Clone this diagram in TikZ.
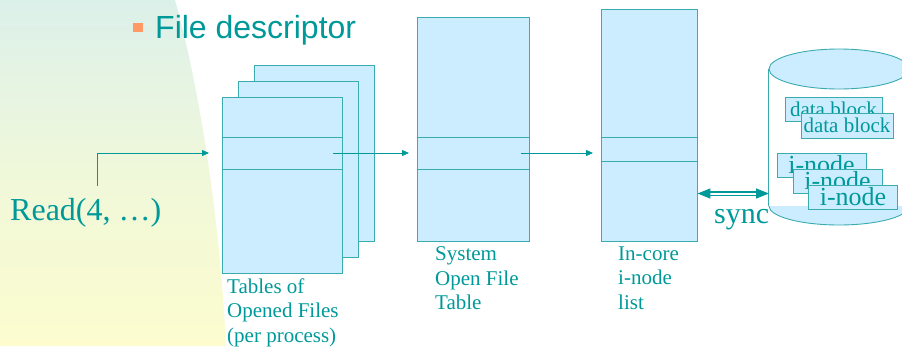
\documentclass[tikz,border=0pt]{standalone}
\usepackage{fontspec}
\setmainfont{Liberation Serif}
\newfontfamily\headfont{Liberation Sans}
\usetikzlibrary{arrows.meta,shapes.geometric}

\definecolor{ink}{RGB}{0,153,153}
\definecolor{edge}{RGB}{58,172,176}
\definecolor{cellfill}{RGB}{204,236,255}
\definecolor{bullet}{RGB}{255,153,102}
\definecolor{bgtop}{RGB}{220,240,234}
\definecolor{bgmid}{RGB}{240,248,218}
\definecolor{bgbot}{RGB}{252,252,206}

\tikzset{
  tablebox/.style={draw=edge, fill=cellfill, line width=0.9pt, inner sep=0pt},
  blockbox/.style={draw=edge, fill=cellfill, line width=0.9pt, inner sep=0pt, text=ink},
  divider/.style={draw=edge, line width=0.9pt},
  link/.style={draw=ink, line width=0.8pt, -{Triangle[length=7pt,width=6pt]}},
  caption/.style={text=ink, anchor=north west, inner sep=0pt, align=left,
                  font=\fontsize{21}{24.5}\selectfont},
}

\begin{document}
\begin{tikzpicture}[x=1pt, y=-1pt]
\useasboundingbox (0,0) rectangle (902,346);

% slide background wedge on the left
\shade[top color=bgtop, bottom color=bgbot, middle color=bgmid]
  (0,0) -- (175,0) .. controls (200,90) and (220,220) .. (226,346) -- (0,346) -- cycle;

% heading
\fill[bullet] (133,23) rectangle (143,32);
\node[anchor=base west, inner sep=0pt, text=ink, font=\headfont\fontsize{32}{36}\selectfont]
  (title) at (155,38) {File descriptor};

% per-process tables (stacked)
\node[tablebox, minimum width=120pt, minimum height=176pt] (tabC) at (314,153) {};
\node[tablebox, minimum width=120pt, minimum height=176pt] (tabB) at (298,169) {};
\node[tablebox, minimum width=120pt, minimum height=176pt] (tabA) at (282,185) {};
\draw[divider] (222,137) -- (342,137);
\draw[divider] (222,169) -- (342,169);

% system open file table
\node[tablebox, minimum width=112pt, minimum height=224pt] (sys) at (473,129) {};
\draw[divider] (417,137) -- (529,137);
\draw[divider] (417,169) -- (529,169);

% in-core i-node list
\node[tablebox, minimum width=96pt, minimum height=232pt] (core) at (649,125) {};
\draw[divider] (601,137) -- (697,137);
\draw[divider] (601,161) -- (697,161);

% captions
\node[caption] (capA) at (227,278.5) {Tables of\\Opened Files\\(per process)};
\node[caption] (capS) at (435,246.5) {System\\Open File\\Table};
\node[caption] (capC) at (618,246.5) {In-core\\i-node\\list};

% the read call
\node[anchor=base west, inner sep=0pt, text=ink, font=\fontsize{32}{36}\selectfont]
  (read) at (10,220) {Read(4, \dots)};
\coordinate (readtop) at (97,186);
\coordinate (fdin) at (209,153);
\coordinate (fdout) at (333,153);
\coordinate (sysin) at (409,153);
\coordinate (sysout) at (521,153);
\coordinate (corein) at (593,153);
\draw[link] (readtop) |- (fdin);
\draw[link] (fdout) -- (sysin);
\draw[link] (sysout) -- (corein);

% disk
\begin{scope}
\clip (0,0) rectangle (902,346);
\node[draw=edge, fill=cellfill, line width=0.9pt, ellipse, minimum width=140pt, minimum height=38pt, inner sep=0pt]
  (diskbot) at (839,206) {};
\fill[white] (769,69) rectangle (910,206);
\node[draw=edge, fill=cellfill, line width=0.9pt, ellipse, minimum width=140pt, minimum height=40pt, inner sep=0pt]
  (disktop) at (839,69) {};
\draw[edge, line width=0.9pt] (disktop.west) -- (diskbot.west);
\end{scope}

% blocks on the disk
\node[blockbox, minimum width=97pt, minimum height=24pt, font=\fontsize{21}{24}\selectfont]
  (db1) at (833.5,109) {data block};
\node[blockbox, minimum width=92pt, minimum height=25pt, font=\fontsize{21}{24}\selectfont]
  (db2) at (847,125.5) {data block};
\node[blockbox, minimum width=89pt, minimum height=24pt, font=\fontsize{26}{28}\selectfont]
  (in1) at (821.5,165) {i-node};
\node[blockbox, minimum width=89pt, minimum height=24pt, font=\fontsize{26}{28}\selectfont]
  (in2) at (837.5,181) {i-node};
\node[blockbox, minimum width=89pt, minimum height=24pt, font=\fontsize{26}{28}\selectfont]
  (in3) at (853,197) {i-node};

% sync link between memory and disk
\coordinate (diskside) at (769,193.5);
\draw[draw=ink, double=white, double distance=2pt, line width=1.3pt,
      {Triangle[length=13pt,width=10pt]}-{Triangle[length=13pt,width=10pt]}]
  (core.east |- diskside) -- (diskside);
\node[anchor=base west, inner sep=0pt, text=ink, font=\fontsize{30}{32}\selectfont]
  (sync) at (714,223) {sync};
\end{tikzpicture}
\end{document}
